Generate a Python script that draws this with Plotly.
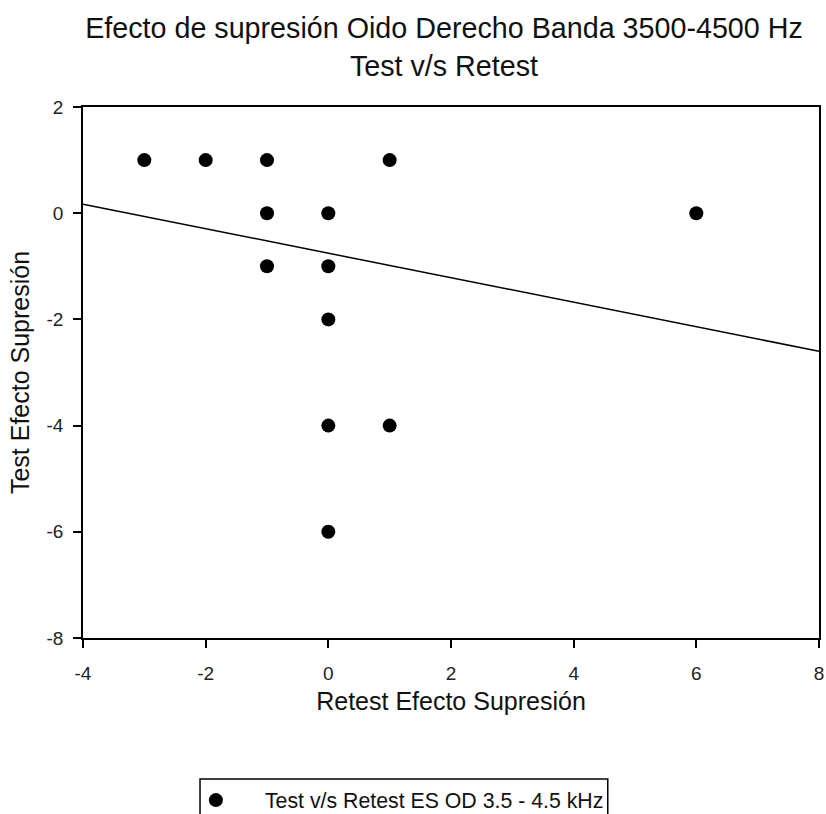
import plotly.graph_objects as go

# Data
retest = [-3, -2, -1, 1, -1, 0, 6, -1, 0, 0, 0, 1, 0]
test = [1, 1, 1, 1, 0, 0, 0, -1, -1, -2, -4, -4, -6]
fit_x = [-4, 8]
fit_y = [0.17, -2.6]

series_name = "Test v/s Retest ES OD 3.5 - 4.5 kHz"
title_text = "Efecto de supresión Oido Derecho Banda 3500-4500 Hz<br>Test v/s Retest"
x_title = "Retest Efecto Supresión"
y_title = "Test Efecto Supresión"
x_ticks = [-4, -2, 0, 2, 4, 6, 8]
x_ticklabels = ["-4", "-2", "0", "2", "4", "6", "8"]
y_ticks = [-8, -6, -4, -2, 0, 2]
y_ticklabels = ["-8", "-6", "-4", "-2", "0", "2"]

FONT = "Liberation Sans, Arial, sans-serif"

fig = go.Figure()
fig.add_trace(go.Scatter(
    x=retest, y=test, mode="markers", name=series_name,
    marker=dict(color="black", size=14, line=dict(width=0)),
))
fig.add_trace(go.Scatter(
    x=fit_x, y=fit_y, mode="lines", showlegend=False,
    line=dict(color="black", width=1.5),
))

axis_common = dict(
    showgrid=False, zeroline=False, showline=True, linecolor="black",
    linewidth=1.5, mirror=True, ticks="outside", ticklen=8, tickwidth=1.5,
    tickcolor="black", tickfont=dict(size=19, color="#222", family=FONT),
    automargin=False,
)

fig.update_layout(
    width=826, height=814,
    margin=dict(l=83, r=7, t=107, b=176, autoexpand=False),
    paper_bgcolor="white", plot_bgcolor="white",
    font=dict(family=FONT, color="#111"),
    title=dict(text=title_text, x=0.5375, xanchor="center", yref="container", y=0.953, yanchor="top",
               font=dict(size=28.7, family=FONT, color="#111")),
    xaxis=dict(range=[-4, 8.0001], tickvals=x_ticks, ticktext=x_ticklabels, ticklabelstandoff=9,
               title=dict(text=x_title, font=dict(size=25), standoff=10), **axis_common),
    yaxis=dict(range=[-8, 2], tickvals=y_ticks, ticktext=y_ticklabels, ticklabelstandoff=6,
               title=dict(text=y_title, font=dict(size=25), standoff=10), **axis_common),
    legend=dict(x=0.114, y=-0.267, xanchor="left", yanchor="top", bgcolor="rgba(0,0,0,0)",
                borderwidth=0, font=dict(size=21.3, family=FONT, color="#111"), itemwidth=88),
    shapes=[dict(type="rect", xref="paper", yref="paper", x0=0.159, x1=0.713, y0=-0.2655, y1=-0.36,
                 line=dict(color="black", width=1.5), fillcolor="rgba(0,0,0,0)")],
)

fig.write_html(
    "out.html",
    config={"displayModeBar": False},
    post_script="document.body.style.margin='0';document.body.style.overflow='hidden';",
)
